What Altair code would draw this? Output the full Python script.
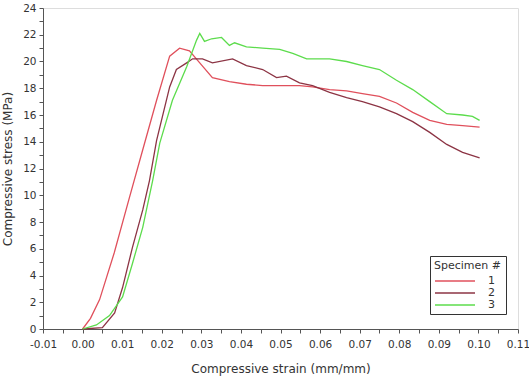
import altair as alt
import pandas as pd

# Specimen 1 (red)
s1_x = [0.000, 0.0020, 0.0043, 0.0080, 0.0119, 0.0152, 0.0187, 0.0220, 0.0245, 0.0270,
        0.0296, 0.0328, 0.0371, 0.0414, 0.0455, 0.0548, 0.0581, 0.0624, 0.0667, 0.0707, 0.0750,
        0.0793, 0.0834, 0.0877, 0.0920, 0.0960, 0.1003]
s1_y = [0.0, 0.8, 2.2, 5.7, 9.9, 13.4, 17.1, 20.4, 21.0, 20.8,
        19.9, 18.8, 18.5, 18.3, 18.2, 18.2, 18.1, 17.9, 17.8, 17.6, 17.4,
        16.9, 16.2, 15.6, 15.3, 15.2, 15.1]

# Specimen 2 (dark red)
s2_x = [0.000, 0.0050, 0.0081, 0.0101, 0.0126, 0.0152, 0.0169, 0.0187, 0.0220, 0.0237, 0.0263,
        0.0278, 0.0303, 0.0328, 0.0379, 0.0414, 0.0455, 0.0490, 0.0515, 0.0548, 0.0581, 0.0624,
        0.0667, 0.0707, 0.0750, 0.0793, 0.0834, 0.0877, 0.0920, 0.0960, 0.1003]
s2_y = [0.0, 0.1, 1.2, 3.1, 6.1, 8.9, 11.1, 14.1, 18.1, 19.4, 19.9,
        20.2, 20.2, 19.9, 20.2, 19.7, 19.4, 18.8, 18.9, 18.4, 18.2, 17.7,
        17.3, 17.0, 16.6, 16.1, 15.5, 14.7, 13.8, 13.2, 12.8]

# Specimen 3 (green)
s3_x = [0.000, 0.0035, 0.0068, 0.0101, 0.0126, 0.0152, 0.0177, 0.0195, 0.0227, 0.0263, 0.0288,
        0.0296, 0.0308, 0.0326, 0.0351, 0.0371, 0.0384, 0.0414, 0.0455, 0.0498, 0.0531, 0.0566,
        0.0624, 0.0667, 0.0707, 0.0750, 0.0793, 0.0834, 0.0877, 0.0920, 0.0960, 0.0985, 0.1003]
s3_y = [0.0, 0.3, 1.0, 2.4, 4.9, 7.6, 11.1, 13.9, 17.1, 19.6, 21.6,
        22.1, 21.5, 21.7, 21.8, 21.2, 21.4, 21.1, 21.0, 20.9, 20.6, 20.2,
        20.2, 20.0, 19.7, 19.4, 18.6, 17.9, 17.0, 16.1, 16.0, 15.9, 15.6]

specimens = ["1", "2", "3"]
colors = ["#e0505c", "#8c3444", "#5cdc4c"]

rows = []
for name, xs, ys in zip(specimens, [s1_x, s2_x, s3_x], [s1_y, s2_y, s3_y]):
    for i, (x, y) in enumerate(zip(xs, ys)):
        rows.append({"strain": x, "stress": y, "Specimen": name, "order": i})
df = pd.DataFrame(rows)

x_ticks = [round(-0.01 + i * 0.005, 3) for i in range(25)]
y_ticks = list(range(0, 25))

FONT = "DejaVu Sans"

chart = alt.Chart(df).mark_line(strokeWidth=1.3).encode(
    x=alt.X("strain:Q", scale=alt.Scale(domain=[-0.01, 0.11], nice=False),
            axis=alt.Axis(title="Compressive strain (mm/mm)", values=x_ticks,
                          labelExpr="abs(round(datum.value*200)) % 2 == 0 ? replace(format(datum.value, '.2f'), '\u2212', '-') : ''",
                          grid=False, tickSize=4, labelPadding=6, titlePadding=14,
                          labelFlush=False, labelBound=False,
                          domainColor="#555", tickColor="#555", labelColor="#333",
                          titleColor="#333", labelFont=FONT, titleFont=FONT,
                          labelFontSize=10.5, titleFontSize=12, titleFontWeight="normal",
                          labelOverlap=False)),
    y=alt.Y("stress:Q", scale=alt.Scale(domain=[0, 24], nice=False),
            axis=alt.Axis(title="Compressive stress (MPa)", values=y_ticks,
                          labelExpr="datum.value % 2 == 0 ? datum.value : ''",
                          grid=False, tickSize=4, labelPadding=3, titlePadding=8,
                          labelFlush=False,
                          domainColor="#555", tickColor="#555", labelColor="#333",
                          titleColor="#333", labelFont=FONT, titleFont=FONT,
                          labelFontSize=10.5, titleFontSize=12, titleFontWeight="normal",
                          labelOverlap=False)),
    color=alt.Color("Specimen:N", scale=alt.Scale(domain=specimens, range=colors),
                    legend=alt.Legend(title="Specimen #", orient="none",
                                      legendX=387, legendY=248,
                                      symbolType="M-1,0H7", symbolSize=100,
                                      symbolStrokeWidth=1.5,
                                      strokeColor="#333", fillColor="white",
                                      padding=4, rowPadding=1, titlePadding=4,
                                      titleFont=FONT, labelFont=FONT,
                                      titleFontSize=11, labelFontSize=11,
                                      titleFontWeight="normal", titleColor="#333",
                                      labelColor="#333", labelOffset=42)),
    order="order:Q",
).properties(
    width=475, height=321,
    autosize=alt.AutoSizeParams(type="none"),
    padding={"left": 43, "top": 8, "right": 11, "bottom": 51},
).configure_view(stroke="#666", strokeWidth=1.2).configure(background="white")

chart.save("out.html", embed_options={"renderer": "svg", "actions": False})
